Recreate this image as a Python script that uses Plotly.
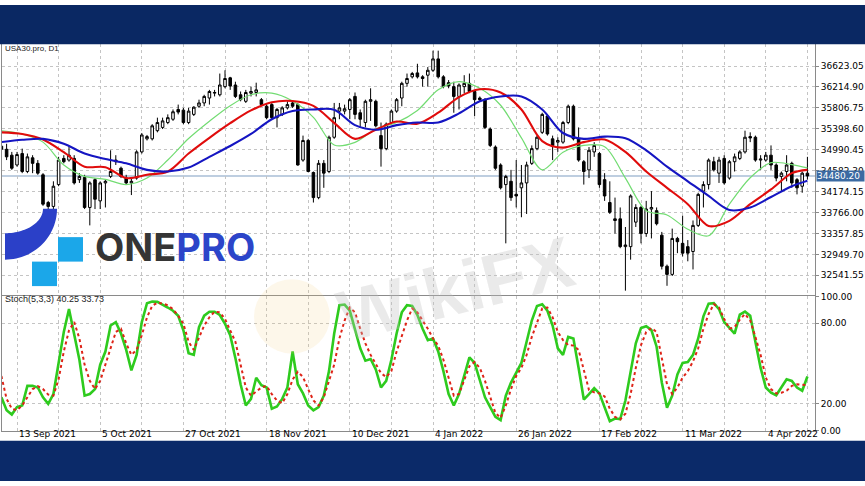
import numpy as np
import pandas as pd
import plotly.graph_objects as go

W, H = 865, 486


def px(x):
    return x / W


def py(y):
    return 1 - y / H


# ---------------- data ----------------
opens = [35060, 34999, 34884, 34693, 34916, 34566, 34833, 34725, 34502, 33961,
         33885, 34311, 34821, 34789, 34821, 34407, 34451, 33865, 34407, 33993,
         34343, 34470, 34789, 34630, 34438, 34343, 34438, 34948, 35203, 35203,
         35362, 35426, 35521, 35585, 35776, 35763, 35521, 35680, 35839, 35903,
         35999, 36094, 36062, 36221, 36393, 36253, 36062, 35935, 36094, 36107,
         35967, 35839, 35871, 35616, 35680, 35807, 35903, 35871, 34789, 35171,
         34547, 34057, 34725, 34566, 35234, 35744, 35744, 35776, 36030, 35712,
         35521, 35935, 35935, 35266, 35012, 35521, 35744, 35999, 36285, 36412,
         36489, 36412, 36444, 36540, 36762, 36412, 36298, 36221, 36030, 36221,
         36285, 36126, 35999, 35967, 35394, 35043, 34693, 34311, 34375, 34121,
         34248, 34343, 34725, 35012, 35330, 35648, 35203, 35139, 35139, 35521,
         35839, 35203, 34757, 34598, 34948, 34916, 34407, 33961, 33643, 33643,
         33101, 33101, 33579, 33865, 33356, 33834, 33802, 33324, 32719, 32560,
         33261, 33165, 33101, 33006, 33515, 34184, 34311, 34757, 34534, 34821,
         34438, 34757, 34821, 34948, 35247, 35234, 34789, 34789, 34884, 34693,
         34470, 34566, 34725, 34407, 34279, 34534]
highs = [35110, 35107, 34948, 34948, 35012, 34916, 34884, 34789, 34534, 33993,
         34375, 34852, 34884, 35060, 34884, 34534, 34502, 34375, 34438, 34375,
         34407, 34980, 34884, 34661, 34502, 34438, 34980, 35317, 35279, 35489,
         35616, 35616, 35680, 35776, 35871, 35807, 35807, 35839, 35967, 36062,
         36158, 36158, 36476, 36540, 36412, 36317, 36126, 36158, 36221, 36298,
         35999, 35903, 35903, 35807, 35839, 35935, 35935, 35903, 35266, 35203,
         34566, 34789, 34789, 35266, 35903, 35903, 35870, 35999, 36107, 35776,
         35967, 36189, 35967, 35521, 35521, 35776, 35999, 36317, 36476, 36508,
         36667, 36444, 36603, 36922, 36922, 36444, 36349, 36317, 36285, 36444,
         36476, 36158, 36030, 35999, 35426, 35075, 34725, 34502, 34598, 34789,
         34693, 34757, 35075, 35266, 35712, 35680, 35266, 35234, 35553, 35871,
         35871, 35426, 34789, 35043, 35139, 34948, 34534, 34375, 34057, 33865,
         33484, 34120, 33929, 33897, 33993, 34184, 33865, 33388, 32751, 33452,
         33292, 33706, 33229, 33611, 34152, 34375, 34821, 34852, 34852, 34884,
         34789, 34916, 34980, 35362, 35330, 35266, 34884, 34948, 35075, 34725,
         34566, 34884, 34757, 34438, 34566, 34852]
lows = [34970, 34789, 34598, 34661, 34534, 34534, 34534, 34502, 33897, 33834,
        33802, 34279, 34725, 34757, 34311, 34343, 33834, 33515, 33834, 33834,
        33865, 34438, 34693, 34438, 34311, 34107, 34407, 34916, 35171, 35171,
        35330, 35394, 35489, 35553, 35680, 35489, 35489, 35648, 35807, 35839,
        35871, 36030, 36030, 36189, 36158, 35999, 35935, 35903, 36030, 36030,
        35839, 35585, 35585, 35426, 35648, 35776, 35807, 34680, 34757, 34553,
        33961, 34025, 34248, 34534, 35203, 35585, 35680, 35585, 35585, 35426,
        35426, 35553, 35426, 34661, 34980, 35489, 35712, 35839, 36221, 36380,
        36380, 36221, 36221, 36508, 36380, 36189, 36189, 35712, 35776, 36094,
        36094, 35648, 35935, 35394, 35043, 34598, 34216, 33165, 33993, 33865,
        33674, 33738, 34693, 34980, 35298, 35266, 34789, 34948, 35107, 35489,
        35171, 34757, 34311, 34438, 34852, 34248, 33993, 33738, 33356, 33070,
        32242, 32847, 33484, 33165, 33292, 33261, 33515, 32656, 32337, 32528,
        32974, 32910, 32815, 32656, 33484, 33865, 34216, 34566, 34343, 34311,
        34407, 34566, 34789, 34916, 35139, 34757, 34598, 34757, 34598, 34375,
        34184, 34375, 34248, 34120, 34152, 34407]
closes = [35000, 34852, 34630, 34897, 34566, 34852, 34725, 34534, 33929, 33885,
          34279, 34789, 34757, 34884, 34343, 34470, 33865, 34343, 34025, 34343,
          34375, 34566, 34757, 34470, 34343, 34375, 34948, 35279, 35247, 35457,
          35521, 35553, 35616, 35731, 35725, 35521, 35744, 35820, 35903, 36030,
          36126, 36107, 36253, 36380, 36234, 36030, 35967, 36107, 36126, 36158,
          35871, 35616, 35616, 35776, 35807, 35871, 35839, 34693, 35171, 34566,
          34057, 34725, 34534, 35234, 35616, 35807, 35790, 35967, 35680, 35585,
          35935, 35967, 35457, 35012, 35489, 35744, 35967, 36285, 36380, 36476,
          36412, 36380, 36540, 36762, 36412, 36221, 36234, 36030, 36253, 36285,
          36126, 35967, 35967, 35426, 35075, 34630, 34248, 34470, 34057, 34089,
          34343, 34693, 35012, 35234, 35680, 35298, 35075, 35171, 35521, 35839,
          35203, 34789, 34566, 34980, 35075, 34311, 34089, 33770, 33611, 33101,
          33133, 34089, 33865, 33356, 33834, 33865, 33547, 32719, 32560, 33261,
          33197, 32974, 32974, 33515, 34120, 34311, 34789, 34598, 34789, 34343,
          34757, 34852, 34948, 35234, 35221, 34789, 34808, 34884, 34693, 34438,
          34534, 34693, 34343, 34248, 34534, 34480.2]

# moving averages read at every 4th bar (plus the last bar)
ma_idx = list(range(0, 153, 4)) + [155]
ma_fast = [35362, 35298, 35139, 34693, 34470, 34413, 34311, 34438, 34790, 35209,
           35547, 35850, 36062, 36094, 35941, 35623, 35082, 35133, 35394, 35521,
           35757, 36158, 36320, 36189, 35858, 35222, 34598, 34942, 35075, 35050,
           34438, 33802, 33719, 33439, 33312, 33929, 34445, 34738, 34700, 34636]
ma_mid = [35330, 35298, 35190, 34942, 34661, 34650, 34438, 34502, 34566, 34916,
          35222, 35508, 35757, 35916, 35941, 35846, 35515, 35203, 35381, 35540,
          35496, 35712, 36018, 36170, 36107, 35776, 35160, 35031, 35139, 35190,
          34948, 34566, 34248, 33929, 33503, 33604, 33929, 34216, 34534, 34598]
ma_slow = [35139, 35184, 35203, 35107, 34916, 34808, 34725, 34598, 34566, 34642,
           34852, 35063, 35298, 35585, 35744, 35776, 35770, 35470, 35381, 35470,
           35521, 35521, 35699, 35935, 36030, 36030, 35776, 35317, 35203, 35247,
           35215, 34980, 34661, 34375, 34089, 33815, 33865, 34069, 34279, 34387]

stoch_k = [24.8, 15.1, 11.9, 17.5, 18.7, 33.3, 33.3, 32.1, 24.8, 19.9,
           27.2, 51.6, 73.5, 90.5, 72.3, 52.8, 26.0, 27.2, 30.9, 49.1,
           58.9, 78.3, 80.8, 72.3, 60.1, 44.8, 56.4, 80.8, 94.9, 96.1,
           95.9, 94.1, 91.7, 89.3, 85.6, 74.7, 57.7, 56.4, 77.1, 85.6,
           88.6, 88.6, 86.1, 79.6, 71.0, 54.0, 34.5, 18.7, 23.6, 39.4,
           33.8, 32.1, 16.3, 18.0, 23.6, 32.1,
           58.9, 34.5, 27.7, 18.7, 15.1, 17.5, 26.0, 44.3, 72.3, 93.4,
           93.9, 89.3, 74.7, 61.3, 52.1, 53.3, 45.5, 32.1, 37.0, 52.8,
           72.3, 88.1, 93.4, 92.9, 86.1, 75.9, 67.4, 68.6, 58.9, 44.3,
           27.2, 18.7, 27.2, 41.8, 54.5, 50.4, 37.0, 24.8, 17.5, 10.2,
           7.8, 26.0, 35.8, 43.1, 50.4, 66.2, 82.0, 92.9, 94.2, 89.3,
           78.3, 61.3, 56.4, 69.8, 68.6, 46.7,
           23.1, 27.2, 31.6, 27.7, 17.0, 7.0, 9.0, 8.5, 22.4, 44.3,
           65.0, 76.4, 77.8, 74.9, 62.5, 35.8, 17.0, 26.0, 41.8, 50.4,
           51.1, 56.4, 68.6, 85.1, 94.6, 94.9, 90.5, 80.8, 76.6, 72.3,
           86.4, 88.6, 85.6, 66.2, 46.7, 32.1, 28.2, 26.3, 31.9, 38.2,
           37.0, 32.1, 29.7, 40.25]
stoch_d = [40.6, 23.6, 16.3, 15.1, 18.7, 24.8, 30.9, 33.1, 30.9, 26.8,
           26.0, 38.2, 58.9, 74.7, 80.8, 68.6, 49.1, 37.0, 30.9, 37.0,
           49.1, 62.5, 73.5, 75.9, 65.0, 56.4, 60.1, 71.0, 84.4, 92.9,
           95.4, 94.6, 93.4, 90.5, 85.6, 79.6, 66.2, 60.1, 68.6, 78.3,
           84.4, 88.6, 88.1, 83.2, 74.7, 66.2, 49.1, 32.1, 26.0, 29.2,
           32.1, 33.3, 27.2, 22.4, 20.4, 27.2,
           38.0, 43.8, 39.9, 30.9, 22.4, 18.7, 24.8, 37.0, 49.1, 68.6,
           82.0, 91.7, 88.1, 75.9, 65.0, 56.4, 50.1, 42.8, 39.9, 44.3,
           58.9, 71.0, 82.0, 91.0, 88.1, 82.0, 75.9, 68.6, 63.3, 52.8,
           39.4, 26.0, 27.2, 38.2, 47.9, 51.1, 46.7, 37.0, 24.8, 13.1,
           9.5, 18.7, 30.9, 40.6, 46.7, 56.4, 69.8, 80.8, 91.0, 91.7,
           84.4, 73.5, 67.4, 63.7, 63.3, 60.1,
           45.0, 30.2, 28.5, 27.7, 25.5, 16.3, 10.2, 8.3, 12.6, 27.2,
           46.7, 63.7, 73.5, 76.4, 73.5, 55.2, 34.5, 27.2, 32.1, 39.4,
           44.3, 51.6, 61.3, 75.9, 86.9, 94.2, 91.7, 83.2, 75.9, 77.1,
           82.7, 86.9, 82.0, 69.8, 56.4, 39.4, 30.9, 27.7, 28.2, 29.7,
           33.3, 34.5, 34.0, 33.73]

price_ticks = [32541.55, 32949.70, 33357.85, 33766.00, 34174.15, 34582.30,
               34990.45, 35398.60, 35806.75, 36214.90, 36623.05]
stoch_ticks = [0, 20, 80, 100]
date_labels = ["13 Sep 2021", "5 Oct 2021", "27 Oct 2021", "18 Nov 2021",
               "10 Dec 2021", "4 Jan 2022", "26 Jan 2022", "17 Feb 2022",
               "11 Mar 2022", "4 Apr 2022"]
last_price = 34480.20

# ---------------- positions ----------------
n = len(closes)
xs = list(range(n))
dates = pd.bdate_range("2021-09-08", "2022-04-14")
dates = dates[dates != pd.Timestamp("2021-12-24")]
label_pos = [int(dates.get_loc(pd.to_datetime(s, format="%d %b %Y"))) for s in date_labels]
grid_pos = list(range(label_pos[0] % 8, n, 8))

X_DOM = [px(2), px(815)]
PRICE_DOM = [py(296.5), py(40)]
STOCH_DOM = [py(434.5), py(297.5)]
X_RANGE = [0.115, 156.46]

TICK_FONT = dict(family="DejaVu Sans", size=9, color="#000000")

fig = go.Figure()

fig.add_trace(go.Candlestick(
    x=xs, open=opens, high=highs, low=lows, close=closes,
    xaxis="x", yaxis="y", whiskerwidth=0,
    increasing=dict(line=dict(color="#000000", width=1), fillcolor="#ffffff"),
    decreasing=dict(line=dict(color="#000000", width=1), fillcolor="#000000"),
    hoverinfo="skip", showlegend=False))

for vals, col, wd in [(ma_fast, "#72dc72", 1.2), (ma_mid, "#e00c0c", 2.1), (ma_slow, "#1515c2", 2.1)]:
    fig.add_trace(go.Scatter(x=ma_idx, y=vals, mode="lines", xaxis="x", yaxis="y",
                             line=dict(color=col, width=wd, shape="spline", smoothing=0.9),
                             hoverinfo="skip", showlegend=False))

fig.add_trace(go.Scatter(x=xs, y=stoch_k, mode="lines", xaxis="x2", yaxis="y2",
                         line=dict(color="#2ecb1e", width=2.6), hoverinfo="skip", showlegend=False))
fig.add_trace(go.Scatter(x=xs, y=stoch_d, mode="lines", xaxis="x2", yaxis="y2",
                         line=dict(color="#de2418", width=2, dash="dot"), hoverinfo="skip", showlegend=False))

grid = dict(showgrid=True, gridcolor="#c4c4c4", gridwidth=1, griddash="3px,3px")
axline = dict(showline=True, linecolor="#8a8a8a", linewidth=1, mirror=True, zeroline=False, fixedrange=True)

fig.update_layout(
    width=W, height=H, margin=dict(l=0, r=0, t=0, b=0),
    paper_bgcolor="#ffffff", plot_bgcolor="#ffffff",
    showlegend=False, hovermode=False,
    xaxis=dict(domain=X_DOM, range=X_RANGE, anchor="y", tickvals=grid_pos, showticklabels=False,
               ticks="", rangeslider=dict(visible=False), **grid, **axline),
    yaxis=dict(domain=PRICE_DOM, range=[32150, 37049], anchor="x", side="right",
               tickvals=price_ticks, ticktext=[f"{v:.2f}" for v in price_ticks],
               ticks="outside", ticklen=3, tickcolor="#8a8a8a", tickfont=TICK_FONT, **grid, **axline),
    xaxis2=dict(domain=X_DOM, range=X_RANGE, anchor="y2", tickvals=grid_pos, showticklabels=False,
                ticks="", **grid, **axline),
    yaxis2=dict(domain=STOCH_DOM, range=[0, 100], anchor="x2", side="right",
                tickvals=stoch_ticks, ticktext=[f"{v:.2f}" for v in stoch_ticks],
                ticks="outside", ticklen=3, tickcolor="#8a8a8a", tickfont=TICK_FONT, **grid, **axline),
)

shapes = []
# navy bands
shapes.append(dict(type="rect", xref="paper", yref="paper", x0=0, x1=1, y0=py(40), y1=1,
                   fillcolor="#0a2863", line=dict(width=0), layer="above"))
shapes.append(dict(type="rect", xref="paper", yref="paper", x0=0, x1=1, y0=0, y1=py(445),
                   fillcolor="#0b2a69", line=dict(width=0), layer="above"))
# current price line
shapes.append(dict(type="line", xref="paper", yref="y", x0=X_DOM[0], x1=X_DOM[1],
                   y0=last_price, y1=last_price, line=dict(color="#a9bed6", width=1.5), layer="below"))

# logo: quarter ring
cx, cy = 5, 208
t = np.linspace(0, np.pi / 2, 30)
outer = [(cx + 52 * np.cos(a), cy + 52 * np.sin(a)) for a in t]
inner = [(cx + 38 * np.cos(a), cy + 25 * np.sin(a)) for a in t[::-1]]
pts = outer + inner
path = "M " + " L ".join(f"{px(x):.5f},{py(y):.5f}" for x, y in pts) + " Z"
shapes.append(dict(type="path", xref="paper", yref="paper", path=path,
                   fillcolor="#2b40c8", line=dict(width=0), layer="above"))
for (x0, y0) in [(58, 237), (32, 262)]:
    shapes.append(dict(type="rect", xref="paper", yref="paper", x0=px(x0), x1=px(x0 + 25),
                       y0=py(y0 + 25), y1=py(y0), fillcolor="#1ba7e9", line=dict(width=0), layer="above"))
# watermark emblem
shapes.append(dict(type="circle", xref="paper", yref="paper", x0=px(254), x1=px(330),
                   y0=py(356), y1=py(280), fillcolor="rgba(245,205,125,0.16)", line=dict(width=0), layer="above"))
fig.update_layout(shapes=shapes)

ann = []
ann.append(dict(xref="paper", yref="paper", x=px(3), y=py(44), xanchor="left", yanchor="middle",
                text="USA30.pro, D1", showarrow=False, font=dict(family="Liberation Sans", size=8, color="#222222")))
ann.append(dict(xref="paper", yref="paper", x=px(3), y=py(300.5), xanchor="left", yanchor="middle",
                text=f"Stoch(5,3,3) {stoch_k[-1]:.2f} {stoch_d[-1]:.2f}", showarrow=False,
                font=dict(family="Liberation Sans", size=9, color="#222222")))
for pos, lab in zip(label_pos, date_labels):
    ann.append(dict(xref="x2", yref="paper", x=pos, y=py(438.5), xanchor="left", yanchor="middle",
                    text=lab, showarrow=False, font=TICK_FONT))
ann.append(dict(xref="paper", yref="y", x=px(816), y=last_price, xanchor="left", yanchor="middle",
                text=f"{last_price:.2f}", showarrow=False, bgcolor="#3b6aa2", borderpad=0,
                width=47, align="left", font=dict(family="DejaVu Sans", size=9, color="#ffffff")))
ann.append(dict(xref="paper", yref="paper", x=px(93), y=py(247), xanchor="left", yanchor="middle",
                text="<b>ONE</b><b><span style='color:#2c45c9'>PRO</span></b>", showarrow=False,
                font=dict(family="Inter", size=38, color="#353535")))
ann.append(dict(xref="paper", yref="paper", x=px(455), y=py(290), xanchor="center", yanchor="middle",
                text="<b>WikiFX</b>", showarrow=False, textangle=-14,
                font=dict(family="Liberation Sans", size=72, color="rgba(190,190,190,0.33)")))
fig.update_layout(annotations=ann)

fig.write_html("out.html", config={"displayModeBar": False, "staticPlot": True},
               post_script="document.body.style.margin='0';document.body.style.padding='0';document.body.style.overflow='hidden';")
